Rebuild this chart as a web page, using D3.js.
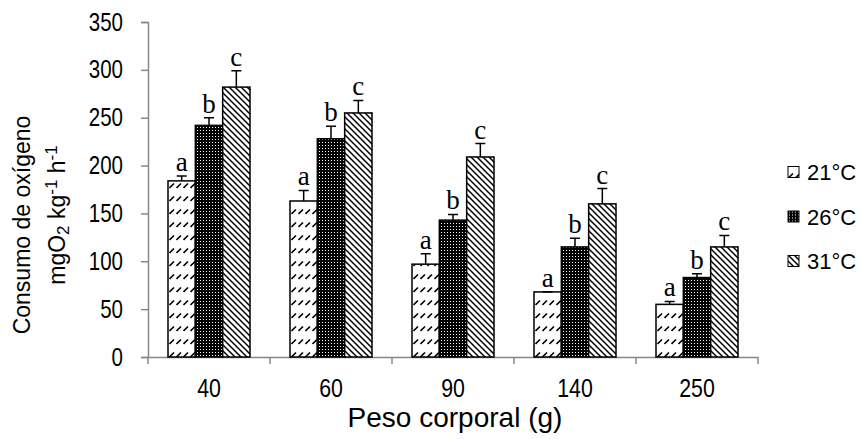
<!DOCTYPE html>
<html>
<head>
  <meta charset="utf-8">
  <title>Consumo de oxigeno</title>
  <script src="https://cdn.jsdelivr.net/npm/d3@7"></script>
  <style>
    body { margin: 0; background: #fff; }
  </style>
</head>
<body>
  <script>
	var w = 862;
	var h = 439;

	var pesos = ["40", "60", "90", "140", "250"];
	var temps = ["21°C", "26°C", "31°C"];
	var v21 = [184, 163, 97, 68, 55];
	var v26 = [242, 228, 143, 115, 83];
	var v31 = [282, 255, 209, 160, 115];
	var e21 = [5, 11, 11, 0, 3];
	var e26 = [8, 13, 6, 9, 4];
	var e31 = [17, 13, 14, 16, 12];
	var l21 = ["a", "a", "a", "a", "a"];
	var l26 = ["b", "b", "b", "b", "b"];
	var l31 = ["c", "c", "c", "c", "c"];
	var yTicks = [0, 50, 100, 150, 200, 250, 300, 350];

	var series = [
		{ t: temps[0], vals: v21, errs: e21, lets: l21, fill: "url(#p21)" },
		{ t: temps[1], vals: v26, errs: e26, lets: l26, fill: "url(#p26)" },
		{ t: temps[2], vals: v31, errs: e31, lets: l31, fill: "url(#p31)" }
	];

	var font = "Liberation Sans, Arial, sans-serif";
	var narrow = "scale(0.82,1)";   // fake Arial Narrow

	var svg = d3.select("body").append("svg")
		.attr("width", w)
		.attr("height", h);

	var defs = svg.append("defs");

	// 21: dashed upward diagonal
	var p21 = defs.append("pattern").attr("id", "p21")
		.attr("patternUnits", "userSpaceOnUse")
		.attr("width", 7).attr("height", 13);
	p21.append("rect").attr("width", 7).attr("height", 13).attr("fill", "#fff");
	p21.append("path").attr("d", "M0.5,6 L5,1.5")
		.attr("stroke", "#000").attr("stroke-width", 1.6);

	// 26: black with white dots
	var p26 = defs.append("pattern").attr("id", "p26")
		.attr("patternUnits", "userSpaceOnUse")
		.attr("width", 3).attr("height", 3);
	p26.append("rect").attr("width", 3).attr("height", 3).attr("fill", "#000");
	p26.append("rect").attr("x", 1).attr("y", 1).attr("width", 1).attr("height", 1).attr("fill", "#fff");

	// 31: downward diagonal
	var p31 = defs.append("pattern").attr("id", "p31")
		.attr("patternUnits", "userSpaceOnUse")
		.attr("width", 6).attr("height", 6);
	p31.append("rect").attr("width", 6).attr("height", 6).attr("fill", "#fff");
	p31.append("path").attr("d", "M-1,-1 L7,7 M-1,5 L1,7 M5,-1 L7,1")
		.attr("stroke", "#000").attr("stroke-width", 1.5);

	var x0 = d3.scaleBand().domain(pesos).range([148, 758]);
	var x1 = d3.scaleBand().domain(temps).range([20, 102]);
	var y = d3.scaleLinear().domain([0, 350]).range([357, 22]);

	// y axis
	var yAxis = svg.append("g")
		.attr("transform", "translate(148,0)")
		.call(d3.axisLeft(y).tickValues(yTicks).tickSize(7));
	yAxis.select(".domain").attr("stroke", "#888").attr("stroke-width", 1.5);
	yAxis.selectAll(".tick line").attr("stroke", "#888").attr("stroke-width", 1.5);
	yAxis.selectAll("text")
		.attr("x", -30.5)
		.attr("transform", narrow)
		.attr("font-family", font)
		.attr("font-size", 25)
		.attr("fill", "#000");

	// x axis
	var xAxis = svg.append("g")
		.attr("transform", "translate(0,357)")
		.call(d3.axisBottom(x0).tickSize(0).tickPadding(22));
	xAxis.select(".domain").attr("stroke", "#888").attr("stroke-width", 1.5);
	xAxis.selectAll("text")
		.attr("transform", narrow)
		.attr("font-family", font)
		.attr("font-size", 26)
		.attr("fill", "#000");
	xAxis.selectAll(".sep")
		.data(pesos.concat(["end"]))
		.enter().append("line")
		.attr("class", "sep")
		.attr("x1", function(d, i) { return 148 + i * x0.bandwidth(); })
		.attr("x2", function(d, i) { return 148 + i * x0.bandwidth(); })
		.attr("y1", 0).attr("y2", 7)
		.attr("stroke", "#888").attr("stroke-width", 1.5);

	// bars
	var groups = svg.selectAll(".grp")
		.data(pesos)
		.enter().append("g")
		.attr("class", "grp")
		.attr("transform", function(d) { return "translate(" + x0(d) + ",0)"; });

	series.forEach(function(s) {
		groups.append("rect")
			.attr("x", x1(s.t))
			.attr("y", function(d, i) { return y(s.vals[i]); })
			.attr("width", x1.bandwidth())
			.attr("height", function(d, i) { return y(0) - y(s.vals[i]); })
			.attr("fill", s.fill)
			.attr("stroke", "#000")
			.attr("stroke-width", 1.5);

		var cx = x1(s.t) + x1.bandwidth() / 2;
		groups.append("path")
			.attr("d", function(d, i) {
				var top = y(s.vals[i] + s.errs[i]);
				return "M" + cx + "," + y(s.vals[i]) + "V" + top + "M" + (cx - 5) + "," + top + "H" + (cx + 5);
			})
			.attr("stroke", "#000")
			.attr("stroke-width", 1.5)
			.attr("fill", "none");

		groups.append("text")
			.text(function(d, i) { return s.lets[i]; })
			.attr("x", cx)
			.attr("y", function(d, i) { return y(s.vals[i] + s.errs[i]) - 5; })
			.attr("text-anchor", "middle")
			.attr("font-family", "Liberation Serif, Times New Roman, serif")
			.attr("font-size", 27)
			.attr("fill", "#000");
	});

	// legend
	var leg = svg.selectAll(".leg")
		.data(series)
		.enter().append("g")
		.attr("class", "leg")
		.attr("transform", function(d, i) { return "translate(788," + (172 + i * 44.5) + ")"; });
	leg.append("rect")
		.attr("x", 0).attr("y", -5.5)
		.attr("width", 11).attr("height", 11)
		.attr("fill", function(d) { return d.fill; })
		.attr("stroke", "#000")
		.attr("stroke-width", 1);
	leg.append("text")
		.text(function(d) { return d.t; })
		.attr("x", 19)
		.attr("y", 8)
		.attr("font-family", font)
		.attr("font-size", 22)
		.attr("fill", "#000");

	// axis titles
	svg.append("text")
		.text("Peso corporal (g)")
		.attr("x", 455)
		.attr("y", 427)
		.attr("text-anchor", "middle")
		.attr("font-family", font)
		.attr("font-size", 28)
		.attr("fill", "#000");

	var yt = svg.append("text")
		.attr("transform", "translate(0,220) rotate(-90)")
		.attr("text-anchor", "middle")
		.attr("font-family", font)
		.attr("font-size", 23)
		.attr("fill", "#000");
	yt.append("tspan").attr("x", -5).attr("y", 29.5).text("Consumo de oxígeno");
	yt.append("tspan").attr("x", 5).attr("y", 65).text("mgO");
	yt.append("tspan").attr("font-size", 17).attr("dy", 4).text("2");
	yt.append("tspan").attr("dy", -4).text(" kg");
	yt.append("tspan").attr("font-size", 17).attr("dy", -8).text("-1");
	yt.append("tspan").attr("dy", 8).text(" h");
	yt.append("tspan").attr("font-size", 17).attr("dy", -8).text("-1");
  </script>
</body>
</html>
